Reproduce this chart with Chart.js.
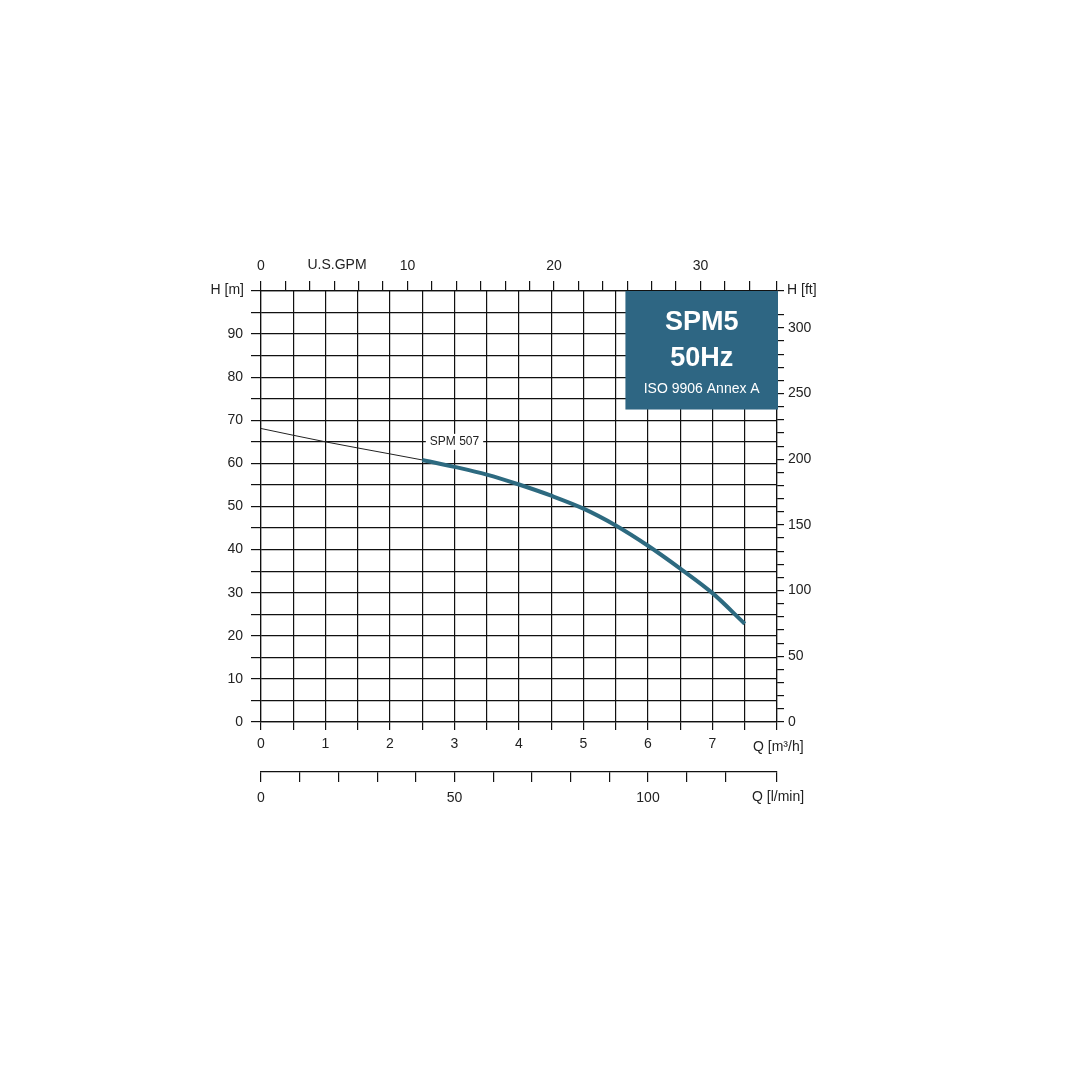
<!DOCTYPE html>
<html><head><meta charset="utf-8">
<script src="https://cdn.jsdelivr.net/npm/chart.js@4"></script>
<style>html,body{margin:0;padding:0;background:#fff}#w{width:1092px;height:1092px}</style>
</head><body><div id="w"><canvas id="c" width="1092" height="1092"></canvas></div>
<script>
const flowThin = [0, 1, 2, 2.5];
const headThin = [68.1, 65.0, 62.2, 60.8];
const flowMain = [2.5, 3, 3.5, 4, 4.5, 5, 5.5, 6, 6.5, 7, 7.5];
const headMain = [60.8, 59.2, 57.4, 55.1, 52.5, 49.5, 45.6, 40.9, 35.6, 29.9, 22.8];
const qLabels = [0,1,2,3,4,5,6,7];
const hLabels = [0,10,20,30,40,50,60,70,80,90];
const ftLabels = [0,50,100,150,200,250,300];
const gpmLabels = [0,10,20,30];
const lminLabels = [0,50,100];
const QMAX = 8, HMAX = 100;
const F = '"Liberation Sans", Arial, sans-serif';
const toPts = (xs, ys) => xs.map((x,i)=>({x, y: ys[i]}));

const overlay = {
  id:'overlay',
  afterDraw(ch){
    const c = ch.ctx, a = ch.chartArea;
    c.save();
    c.fillStyle = '#222'; c.font = '14px '+F; c.textBaseline='middle';
    c.textAlign='right'; c.fillText('H [m]', 244, 290);
    c.textAlign='left'; c.fillText('H [ft]', 787, 290);
    c.fillText('Q [m\u00B3/h]', 753, 747);
    c.fillText('Q [l/min]', 752, 797);
    c.textAlign='center'; c.fillText('U.S.GPM', 337, 265);
    const xs = ch.scales.x, ys = ch.scales.y;
    const lx = xs.getPixelForValue(3), ly = ys.getPixelForValue(65);
    c.font='12px '+F;
    const tw = c.measureText('SPM 507').width;
    c.fillStyle='#fff'; c.fillRect(lx-tw/2-4, ly-8, tw+8, 16);
    c.fillStyle='#222'; c.fillText('SPM 507', lx, ly);
    const bx = xs.getPixelForValue(5.65), bw = a.right+1-bx;
    const by = a.top, bh = ys.getPixelForValue(72.5)-by;
    c.fillStyle='#2e6683'; c.fillRect(bx, by, bw, bh);
    c.fillStyle='#fff';
    c.font='bold 27px '+F; c.fillText('SPM5', bx+bw/2, by+32);
    c.fillText('50Hz', bx+bw/2, by+68);
    c.font='14px '+F; c.fillText('ISO 9906 Annex A', bx+bw/2, by+98);
    c.restore();
  }
};

const tickFont = {family:F, size:14};
new Chart(document.getElementById('c'), {
  type:'scatter',
  data:{datasets:[
    {data: toPts(flowMain, headMain), showLine:true, borderColor:'#2d6a80', borderWidth:4, pointRadius:0, cubicInterpolationMode:'monotone', xAxisID:'x', yAxisID:'y'},
    {data: toPts(flowThin, headThin), showLine:true, borderColor:'#222', borderWidth:1, pointRadius:0, cubicInterpolationMode:'monotone', xAxisID:'x', yAxisID:'y'}
  ]},
  options:{
    responsive:false, animation:false,
    layout:{padding:0},
    plugins:{legend:{display:false}, tooltip:{enabled:false}},
    scales:{
      x:{type:'linear', position:'bottom', min:0, max:QMAX,
        afterFit(s){s.height=50;},
        ticks:{stepSize:0.5, autoSkip:false, color:'#222', font:tickFont, padding:6, maxRotation:0,
          callback:v=> (qLabels.includes(v)? String(v):'')},
        grid:{color:'#111', lineWidth:1.2, tickLength:8}, border:{color:'#111', width:1.2}},
      x2:{type:'linear', position:'bottom', min:0, max:QMAX*1000/60,
        afterFit(s){s.height=320;},
        ticks:{stepSize:10, autoSkip:false, color:'#222', font:tickFont, padding:8, maxRotation:0,
          callback:v=> (lminLabels.includes(v)? String(v):'')},
        grid:{drawOnChartArea:false, color:'#111', lineWidth:1.2, tickLength:10}, border:{color:'#111', width:1.2}},
      xTop:{type:'linear', position:'top', min:0, max:QMAX*4.40287,
        afterFit(s){s.height=291;},
        ticks:{stepSize:10/6, autoSkip:false, color:'#222', font:tickFont, padding:6, maxRotation:0,
          callback:v=>{const r=Math.round(v*100)/100; return gpmLabels.includes(r)? String(r):'';}},
        grid:{drawOnChartArea:false, color:'#111', lineWidth:1.2, tickLength:10}, border:{color:'#111', width:1.2}},
      y:{type:'linear', position:'left', min:0, max:HMAX,
        afterFit(s){s.width=261;},
        ticks:{stepSize:5, autoSkip:false, color:'#222', font:tickFont, padding:8,
          callback:v=> (hLabels.includes(v)? String(v):'')},
        grid:{color:'#111', lineWidth:1.2, tickLength:10}, border:{color:'#111', width:1.2}},
      yR:{type:'linear', position:'right', min:0, max:HMAX*3.28084,
        afterFit(s){s.width=315;},
        ticks:{stepSize:10, autoSkip:false, color:'#222', font:tickFont, padding:4,
          callback:v=> (ftLabels.includes(v)? String(v):'')},
        grid:{drawOnChartArea:false, color:'#111', lineWidth:1.2, tickLength:7}, border:{color:'#111', width:1.2}}
    }
  },
  plugins:[overlay]
});
</script></body></html>
